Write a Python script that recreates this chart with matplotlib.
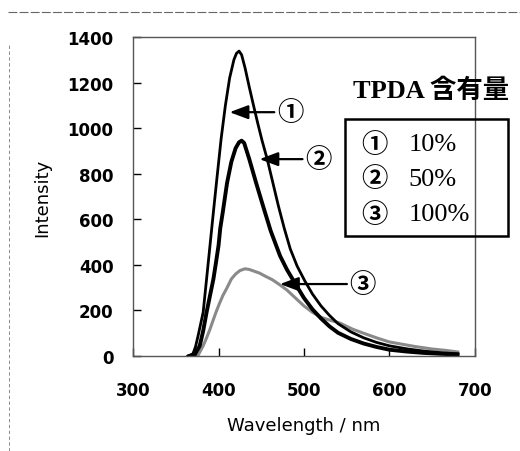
import matplotlib
matplotlib.use('Agg')
import matplotlib.pyplot as plt
from matplotlib.lines import Line2D
from matplotlib.patches import Rectangle

# emission spectra (wavelength nm, intensity)
wl_10 = [364, 370, 373, 376, 379, 382, 386, 390, 394, 398, 403, 408, 413, 418,
         421, 424, 427, 431, 436, 441, 446, 451, 457, 463, 470, 477, 484, 492, 501,
         510, 520, 530, 540, 555, 570, 585, 600, 620, 640, 660, 680]
int_10 = [0, 10, 40, 88, 140, 192, 338, 485, 632, 776, 952, 1099, 1220, 1300,
          1328, 1338, 1322, 1265, 1180, 1099, 1020, 945, 864, 770, 660, 560, 470, 395, 330,
          272, 220, 178, 142, 106, 80, 60, 45, 32, 22, 15, 10]

wl_50 = [366, 372, 378, 382, 386, 390, 394, 397, 400, 402, 405, 410, 415, 420,
         424, 427, 430, 436, 444, 452, 461, 472, 480, 489, 500, 510, 520, 530, 540,
         555, 570, 585, 600, 620, 640, 660, 680]
int_50 = [0, 5, 45, 110, 192, 265, 338, 410, 485, 560, 632, 760, 852, 912,
          938, 945, 935, 864, 760, 660, 550, 440, 380, 323, 255, 205, 165, 130, 102,
          75, 55, 40, 28, 20, 14, 10, 7]

wl_100 = [370, 376, 382, 386, 390, 393, 397, 401, 405, 410, 415, 420, 425, 431,
          436, 442, 448, 455, 463, 472, 480, 490, 500, 510, 520, 530, 542, 557, 570,
          585, 600, 615, 630, 650, 666, 680]
int_100 = [0, 3, 45, 80, 118, 150, 192, 230, 265, 300, 338, 360, 375, 383,
           380, 372, 364, 350, 335, 312, 290, 255, 220, 192, 170, 158, 145, 118, 100,
           80, 62, 52, 42, 31, 25, 18]

legend_title = 'TPDA 含有量'
marks = ['①', '②', '③']
contents = ['10%', '50%', '100%']

# arrow labels: (tip wavelength, tip intensity, label wavelength)
arrow_tips = [(413, 1070, 484), (448, 864, 517), (472, 316, 569)]

serif_cjk = ['Liberation Serif', 'Noto Sans CJK JP']
cjk = ['Noto Sans CJK JP', 'DejaVu Sans']

fig = plt.figure(figsize=(5.2, 4.52), dpi=100)
ax = fig.add_axes([0.256, 0.210, 0.657, 0.706])

ax.plot(wl_100, int_100, color='#8a8a8a', lw=2.2)
ax.plot(wl_50, int_50, color='black', lw=2.8)
ax.plot(wl_10, int_10, color='black', lw=2.0)

ax.set_xlim(300, 700)
ax.set_ylim(0, 1400)
ax.set_xticks(range(300, 701, 100))
ax.set_yticks(range(0, 1401, 200))
ax.tick_params(axis='y', direction='in', length=6, width=1, pad=14, labelsize=12)
ax.tick_params(axis='x', direction='in', length=6, width=1, pad=18, labelsize=12)
for lab in ax.get_xticklabels() + ax.get_yticklabels():
    lab.set_fontweight('bold')
for s in ax.spines.values():
    s.set_color('#555555')
    s.set_linewidth(1.0)

ax.set_xlabel('Wavelength / nm', fontsize=13, labelpad=12)
ax.set_ylabel('Intensity', fontsize=13, labelpad=12)

for (tx, ty, lx), m in zip(arrow_tips, marks):
    ax.annotate(m, xy=(tx, ty), xytext=(lx, ty), ha='center', va='center',
                fontsize=19, family=cjk, fontweight='bold',
                arrowprops=dict(arrowstyle='-|>,head_length=0.8,head_width=0.3',
                                mutation_scale=14, color='black', lw=1.6,
                                shrinkA=0, shrinkB=0))

# legend box, partly outside the axes
fig.add_artist(Rectangle((0.663, 0.476), 0.313, 0.259, transform=fig.transFigure,
                         fill=False, ec='black', lw=1.8))
fig.text(0.678, 0.80, legend_title, fontsize=19, family=serif_cjk,
         fontweight='bold', va='center', ha='left')
row_y = [0.679, 0.602, 0.524]
for y, m, c in zip(row_y, marks, contents):
    fig.text(0.721, y, m, fontsize=19, family=cjk, fontweight='bold',
             ha='center', va='center')
    fig.text(0.785, y, c, fontsize=19, family=serif_cjk, ha='left', va='center')

# dashed outer border of the scanned page
fig.add_artist(Line2D([0.015, 1.0], [0.971, 0.971], transform=fig.transFigure,
                      color='#666666', lw=0.8, ls=(0, (8, 2))))
fig.add_artist(Line2D([0.017, 0.017], [0.0, 0.90], transform=fig.transFigure,
                      color='#777777', lw=0.6, ls=(0, (4, 3))))

fig.savefig('out.png', dpi=100)
